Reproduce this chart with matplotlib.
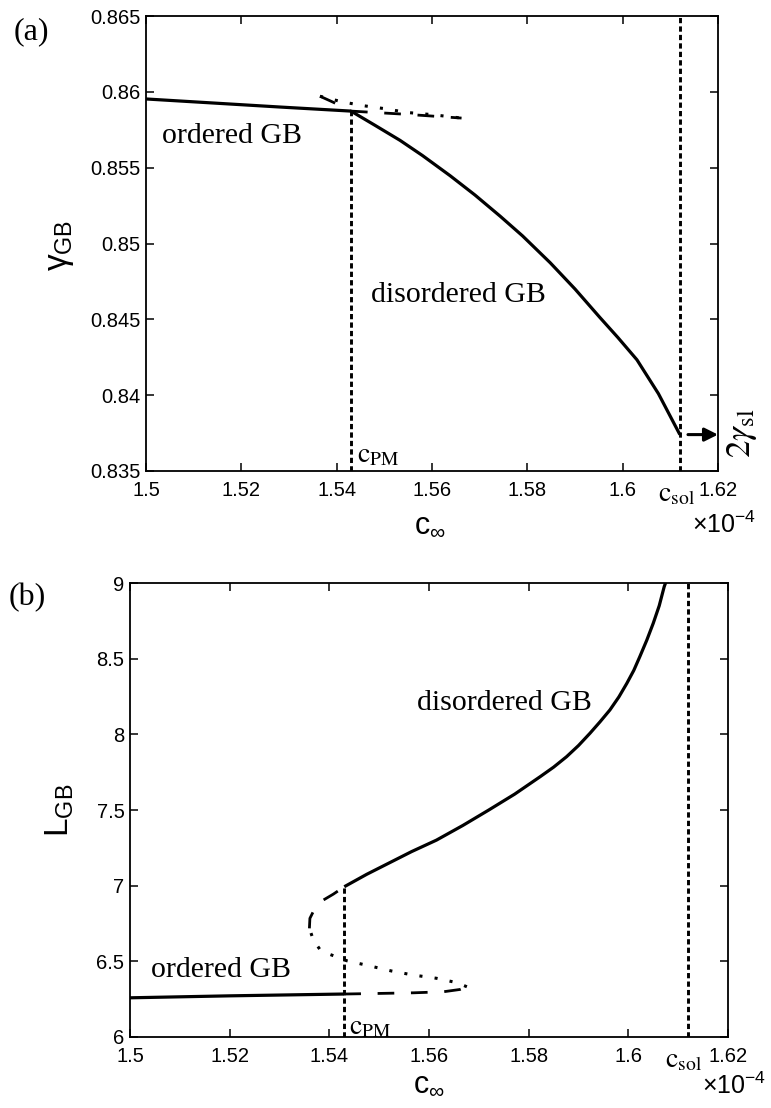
import matplotlib
matplotlib.use("Agg")
import matplotlib.pyplot as plt

plt.rcParams['font.family'] = ['Liberation Sans', 'DejaVu Sans']
plt.rcParams['mathtext.fontset'] = 'custom'
plt.rcParams['mathtext.rm'] = 'Liberation Sans'
plt.rcParams['mathtext.it'] = 'Liberation Sans'
plt.rcParams['mathtext.sf'] = 'Liberation Sans'

# ---------------- data (c in units of 1e-4) ----------------
c_pm = 1.543
c_sol = 1.612

# panel (a): gamma_GB
ord_c_a = [1.5, 1.528, 1.543]
ord_g_a = [0.85953, 0.8590, 0.85873]
dis_c_a = [1.543, 1.548, 1.5533, 1.558, 1.5638, 1.569, 1.5743, 1.579, 1.5848,
           1.590, 1.5952, 1.599, 1.6030, 1.6075, 1.612]
dis_g_a = [0.85873, 0.8578, 0.8568, 0.8558, 0.85447, 0.8532, 0.8518, 0.8505, 0.84873,
           0.8470, 0.84513, 0.8438, 0.84233, 0.8401, 0.8374]
ordm_c_a = [1.543, 1.5545, 1.5662]
ordm_g_a = [0.85873, 0.85852, 0.85827]
unst_c_a = [1.5365, 1.5410, 1.5455, 1.5505, 1.5547, 1.5599, 1.5662]
unst_g_a = [0.85971, 0.85935, 0.85909, 0.85887, 0.85864, 0.85850, 0.85827]
dism_c_a = [1.5365, 1.5393, 1.543]
dism_g_a = [0.85971, 0.85931, 0.85873]
gamma_sl2 = 0.8374

# panel (b): L_GB
ord_c_b = [1.5, 1.52, 1.543]
ord_L_b = [6.259, 6.272, 6.284]
ordm_c_b = [1.543, 1.5502, 1.5569, 1.5629, 1.5662, 1.5676]
ordm_L_b = [6.284, 6.288, 6.292, 6.299, 6.314, 6.332]
unst_c_b = [1.5676, 1.5656, 1.5615, 1.5569, 1.5525, 1.5482, 1.5435, 1.5401, 1.5381, 1.5368, 1.5360]
unst_L_b = [6.332, 6.359, 6.388, 6.409, 6.436, 6.469, 6.504, 6.546, 6.579, 6.640, 6.718]
dism_c_b = [1.5360, 1.5361, 1.5371, 1.5388, 1.5408, 1.5430]
dism_L_b = [6.718, 6.784, 6.850, 6.905, 6.944, 6.993]
dis_c_b = [1.5430, 1.5475, 1.5520, 1.5565, 1.5615, 1.5668, 1.5720, 1.5772, 1.5823,
           1.5850, 1.5876, 1.5900, 1.5923, 1.5943, 1.5963, 1.5981, 1.5997, 1.6011,
           1.6023, 1.6037, 1.6050, 1.6062, 1.6072, 1.6078]
dis_L_b = [6.993, 7.075, 7.150, 7.225, 7.301, 7.398, 7.500, 7.605, 7.720,
           7.783, 7.852, 7.926, 8.007, 8.082, 8.161, 8.247, 8.337, 8.423,
           8.513, 8.622, 8.734, 8.850, 8.976, 9.03]

xticks = [1.5, 1.52, 1.54, 1.56, 1.58, 1.6, 1.62]
xticklabels = ['1.5', '1.52', '1.54', '1.56', '1.58', '1.6', '1.62']
yticks_a = [0.835, 0.84, 0.845, 0.85, 0.855, 0.86, 0.865]
yticklabels_a = ['0.835', '0.84', '0.845', '0.85', '0.855', '0.86', '0.865']
yticks_b = [6, 6.5, 7, 7.5, 8, 8.5, 9]
yticklabels_b = ['6', '6.5', '7', '7.5', '8', '8.5', '9']

# ---------------- figure ----------------
W, H = 771, 1108
fig = plt.figure(figsize=(W / 100, H / 100), dpi=100)


def P(x, y):
    return (x / W, 1 - y / H)


def box(l, t, r, b):
    return [l / W, 1 - b / H, (r - l) / W, (b - t) / H]


ax1 = fig.add_axes(box(146, 16, 718, 471))
ax2 = fig.add_axes(box(130, 583, 728, 1037))

SOLID = dict(color='black', lw=2.3, solid_capstyle='butt', solid_joinstyle='round')
DASH = dict(color='black', lw=2.0, linestyle=(0, (6, 6)), dash_capstyle='butt')
DOT = dict(color='black', lw=2.2, linestyle=(0, (1, 4)), dash_capstyle='butt')
VLINE = dict(color='black', lw=2.1, linestyle=(0, (1.8, 1.1)), dash_capstyle='butt')

for ax in (ax1, ax2):
    ax.set_xlim(1.5, 1.62)
    ax.set_xticks(xticks)
    ax.set_xticklabels(xticklabels)
    ax.tick_params(direction='in', top=True, right=True, length=6, width=1.1,
                   labelsize=14.5)
    ax.tick_params(axis='x', pad=7)
    ax.tick_params(axis='y', pad=4)
    for s in ax.spines.values():
        s.set_linewidth(1.3)

# panel (a)
ax1.set_ylim(0.835, 0.865)
ax1.set_yticks(yticks_a)
ax1.set_yticklabels(yticklabels_a)
ax1.plot(ord_c_a, ord_g_a, **SOLID)
ax1.plot(dis_c_a, dis_g_a, **SOLID)
ax1.plot(ordm_c_a, ordm_g_a, **DASH)
ax1.plot(unst_c_a, unst_g_a, **DOT)
ax1.plot(dism_c_a, dism_g_a, **DASH)
ax1.plot([c_pm, c_pm], [0.835, ord_g_a[-1]], **VLINE)
ax1.plot([c_sol, c_sol], [0.835, 0.865], **VLINE)
ax1.annotate('', xy=(1.62, gamma_sl2), xytext=(1.6137, gamma_sl2),
             arrowprops=dict(arrowstyle='-|>', lw=2.2, color='black', mutation_scale=20,
                             shrinkA=0, shrinkB=0),
             annotation_clip=False)

# panel (b)
ax2.set_ylim(6, 9)
ax2.set_yticks(yticks_b)
ax2.set_yticklabels(yticklabels_b)
ax2.plot(ord_c_b, ord_L_b, **SOLID)
ax2.plot(dis_c_b, dis_L_b, **SOLID)
ax2.plot(ordm_c_b, ordm_L_b, **DASH)
ax2.plot(unst_c_b, unst_L_b, **DOT)
ax2.plot(dism_c_b, dism_L_b, **DASH)
ax2.plot([c_pm, c_pm], [6, dis_L_b[0]], **VLINE)
ax2.plot([c_sol, c_sol], [6, 9], **VLINE)

# ---------------- texts ----------------
serif = 'Liberation Serif'
fig.text(*P(31, 32), '(a)', family=serif, fontsize=23, ha='center', va='center')
fig.text(*P(27, 598), '(b)', family=serif, fontsize=23, ha='center', va='center')

fig.text(*P(232, 136), 'ordered GB', family=serif, fontsize=21.5, ha='center', va='center')
fig.text(*P(458, 295), 'disordered GB', family=serif, fontsize=21.5, ha='center', va='center')
fig.text(*P(221, 970), 'ordered GB', family=serif, fontsize=21.5, ha='center', va='center')
fig.text(*P(592, 703), 'disordered GB', family=serif, fontsize=21.5, ha='right', va='center')

fig.text(*P(357, 455), r'$\mathrm{c}_{\mathrm{PM}}$', math_fontfamily='stix',
         fontsize=20, ha='left', va='center')
fig.text(*P(349, 1027), r'$\mathrm{c}_{\mathrm{PM}}$', math_fontfamily='stix',
         fontsize=20, ha='left', va='center')
fig.text(*P(658, 494), r'$\mathrm{c}_{\mathrm{sol}}$', math_fontfamily='stix',
         fontsize=20, ha='left', va='center')
fig.text(*P(665, 1060), r'$\mathrm{c}_{\mathrm{sol}}$', math_fontfamily='stix',
         fontsize=20, ha='left', va='center')

fig.text(*P(742, 433), r'$2\gamma_{\mathrm{sl}}$', math_fontfamily='stix',
         fontsize=25, ha='center', va='center', rotation=90)

fig.text(*P(724, 525), r'$\times\mathrm{10}^{-4}$', fontsize=18, ha='center', va='center')
fig.text(*P(734, 1086), r'$\times\mathrm{10}^{-4}$', fontsize=18, ha='center', va='center')

fig.text(*P(430, 525), r'$\mathrm{c}_{\infty}$', fontsize=22, ha='center', va='center')
fig.text(*P(429, 1084), r'$\mathrm{c}_{\infty}$', fontsize=22, ha='center', va='center')

fig.text(*P(60, 245), r'$\gamma_{\mathrm{GB}}$', fontsize=24, ha='center', va='center',
         rotation=90)
fig.text(*P(60, 810), r'$\mathrm{L}_{\mathrm{GB}}$', fontsize=24, ha='center', va='center',
         rotation=90)

fig.savefig('out.png', dpi=100, facecolor='white')
